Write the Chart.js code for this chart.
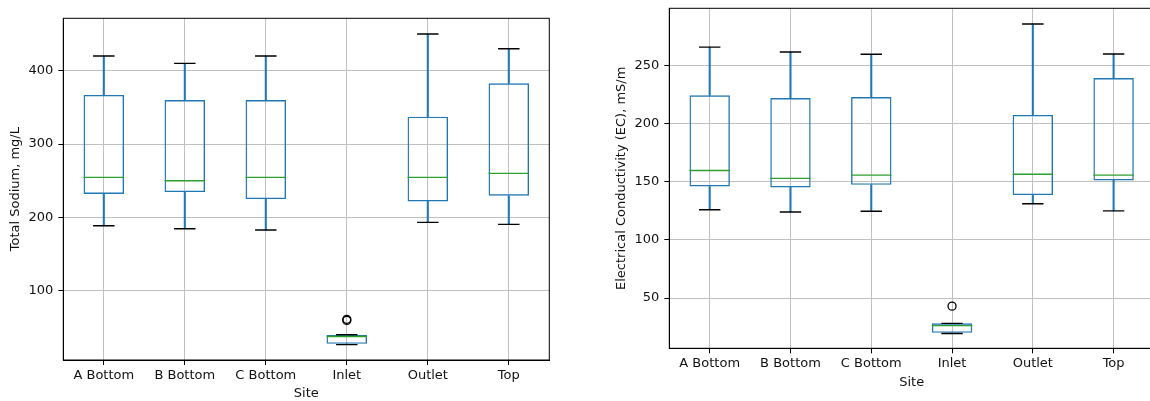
<!DOCTYPE html>
<html>
<head>
<meta charset="utf-8">
<script src="https://cdn.jsdelivr.net/npm/chart.js@4/dist/chart.umd.min.js"></script>
<style>
  html, body { margin: 0; padding: 0; background: #fff; overflow: hidden; width: 1150px; height: 401px; }
  #c1 { position: absolute; left: 0; top: 0; }
  #c2 { position: absolute; left: 606px; top: 0; }
</style>
</head>
<body>
<canvas id="c1" width="575" height="401"></canvas>
<canvas id="c2" width="574" height="401"></canvas>
<script>
const sites = ['A Bottom', 'B Bottom', 'C Bottom', 'Inlet', 'Outlet', 'Top'];

const sodiumMin    = [188.5, 184.5, 182.7, 26.5, 193.2, 190.5];
const sodiumQ1     = [232.0, 234.5, 225.0, 27.5, 221.8, 229.5];
const sodiumMedian = [254.6, 250.0, 254.5, 37.5, 254.6, 260.0];
const sodiumQ3     = [367.0, 360.0, 360.0, 39.5, 337.3, 382.8];
const sodiumMax    = [420.0, 410.0, 420.0, 40.0, 450.0, 430.0];
const sodiumOutlierSites  = ['Inlet', 'Inlet'];
const sodiumOutlierValues = [61.0, 59.5];
const sodiumTicks = [100, 200, 300, 400];

const ecMin    = [126.0, 124.0, 124.7, 19.5, 131.2, 125.0];
const ecQ1     = [146.0, 145.2, 147.4, 20.0, 138.6, 151.2];
const ecMedian = [159.8, 153.0, 155.8, 26.2, 156.6, 155.8];
const ecQ3     = [224.5, 222.2, 223.0, 28.2, 207.6, 239.4];
const ecMax    = [266.0, 261.8, 259.8, 28.2, 285.9, 260.0];
const ecOutlierSites  = ['Inlet'];
const ecOutlierValues = [43.0];
const ecTicks = [50, 100, 150, 200, 250];

const BOX = '#1f77b4', MED = '#2ca02c', CAP = '#000000', GRID = '#c0c0c0';
const FONT = { family: 'DejaVu Sans', size: 13 };

const framePlugin = {
  id: 'frame',
  afterDraw(chart) {
    const a = chart.chartArea, ctx = chart.ctx;
    ctx.save();
    ctx.strokeStyle = '#000';
    ctx.lineWidth = 1;
    ctx.strokeRect(a.left, a.top, a.right - a.left, a.bottom - a.top);
    ctx.restore();
  }
};

function makeChart(id, cfg) {
  const catW = (ctx) => ctx.chart.scales.x.width / sites.length;
  const datasets = [
    { type: 'bar', label: 'upper whisker', data: sites.map((s, i) => [cfg.q3[i], cfg.max[i]]),
      backgroundColor: BOX, borderWidth: 0, barThickness: 1.4, grouped: false, order: 5 },
    { type: 'bar', label: 'lower whisker', data: sites.map((s, i) => [cfg.min[i], cfg.q1[i]]),
      backgroundColor: BOX, borderWidth: 0, barThickness: 1.4, grouped: false, order: 5 },
    { type: 'bar', label: 'box', data: sites.map((s, i) => [cfg.q1[i], cfg.q3[i]]),
      backgroundColor: 'rgba(0,0,0,0)', borderColor: BOX, borderWidth: 1.4, borderSkipped: false,
      barPercentage: 0.5, categoryPercentage: 1, grouped: false, order: 4 },
    { type: 'line', label: 'cap max', data: cfg.max, showLine: false,
      pointStyle: 'line', pointRadius: (c) => catW(c) / 8 + 0.6, pointBorderColor: CAP, pointBorderWidth: 1.4, order: 3 },
    { type: 'line', label: 'cap min', data: cfg.min, showLine: false,
      pointStyle: 'line', pointRadius: (c) => catW(c) / 8 + 0.6, pointBorderColor: CAP, pointBorderWidth: 1.4, order: 3 },
    { type: 'line', label: 'median', data: cfg.median, showLine: false,
      pointStyle: 'line', pointRadius: (c) => catW(c) / 4, pointBorderColor: MED, pointBorderWidth: 1.4, order: 1 },
    { type: 'line', label: 'outliers', data: cfg.outSites.map((s, i) => ({ x: s, y: cfg.outValues[i] })), showLine: false,
      pointStyle: 'circle', pointRadius: 4, pointBorderColor: '#000', pointBackgroundColor: 'rgba(0,0,0,0)', pointBorderWidth: 1.3, order: 0 }
  ];
  return new Chart(document.getElementById(id), {
    type: 'bar',
    data: { labels: sites, datasets },
    plugins: [framePlugin],
    options: {
      responsive: false,
      animation: false,
      devicePixelRatio: 1,
      layout: { padding: cfg.padding },
      plugins: { legend: { display: false }, tooltip: { enabled: false } },
      elements: { point: { hoverRadius: 0 } },
      scales: {
        x: {
          type: 'category',
          offset: true,
          grid: { offset: false, color: GRID, lineWidth: 1, tickColor: '#000', tickLength: 5, drawTicks: true },
          border: { color: '#000', width: 1 },
          ticks: { font: FONT, color: '#111', padding: 3, maxRotation: 0, autoSkip: false },
          title: { display: true, text: 'Site', font: FONT, color: '#111', padding: { top: 2, bottom: 0 } },
          afterFit: (s) => { s.height = cfg.xHeight; s.paddingLeft = 0; s.paddingRight = 0; }
        },
        y: {
          type: 'linear',
          min: cfg.yMin, max: cfg.yMax,
          grid: { color: GRID, lineWidth: 1, tickColor: '#000', tickLength: 5 },
          border: { color: '#000', width: 1 },
          ticks: { font: FONT, color: '#111', padding: 5 },
          afterBuildTicks: (s) => { s.ticks = cfg.ticks.map(v => ({ value: v })); },
          title: { display: true, text: cfg.yTitle, font: FONT, color: '#111', padding: { top: 8, bottom: 0 } },
          afterFit: (s) => { s.width = 63.3; s.paddingTop = 0; s.paddingBottom = 0; }
        }
      }
    }
  });
}

makeChart('c1', {
  min: sodiumMin, q1: sodiumQ1, median: sodiumMedian, q3: sodiumQ3, max: sodiumMax,
  outSites: sodiumOutlierSites, outValues: sodiumOutlierValues, ticks: sodiumTicks,
  yMin: 5.5, yMax: 471.5, yTitle: 'Total Sodium, mg/L',
  padding: { left: 0, right: 25.7, top: 18.3, bottom: 0 }, xHeight: 41
});

makeChart('c2', {
  min: ecMin, q1: ecQ1, median: ecMedian, q3: ecQ3, max: ecMax,
  outSites: ecOutlierSites, outValues: ecOutlierValues, ticks: ecTicks,
  yMin: 6.7, yMax: 299.4, yTitle: 'Electrical Conductivity (EC), mS/m',
  padding: { left: 0, right: 26, top: 8.3, bottom: 10.2 }, xHeight: 42.5
});
</script>
</body>
</html>
